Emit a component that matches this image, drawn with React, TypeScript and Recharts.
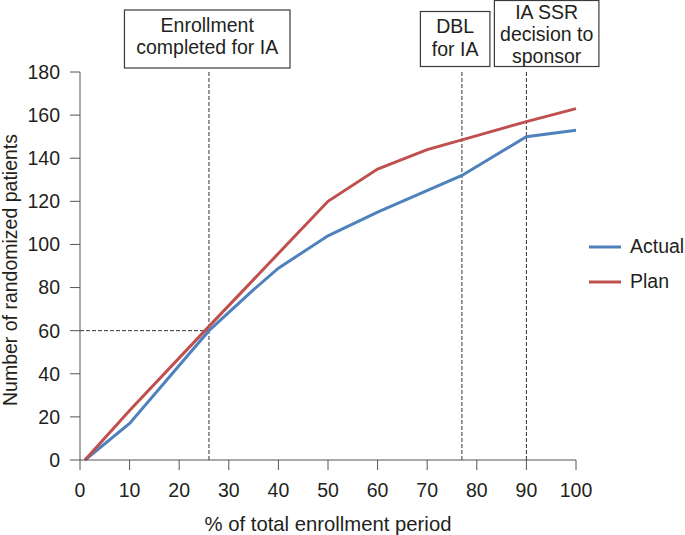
import React from "react";
import { LineChart, Line, XAxis, YAxis, ReferenceLine, Label } from "recharts";

// % of total enrollment period
const actualPct = [1, 10, 26, 35, 40, 50, 60, 77, 90, 100];
const actualPatients = [0, 17, 60, 79, 89, 104, 115, 132, 150, 153];
const planPct = [1, 10, 26, 50, 60, 70, 77, 90, 100];
const planPatients = [0, 23, 62, 120, 135, 144, 148.5, 157, 163];

const xTicks = [0, 10, 20, 30, 40, 50, 60, 70, 80, 90, 100];
const yTicks = [0, 20, 40, 60, 80, 100, 120, 140, 160, 180];

const milestonePct = [26, 77, 90];
const milestoneText = [
  ["Enrollment", "completed for IA"],
  ["DBL", "for IA"],
  ["IA SSR", "decision to", "sponsor"],
];
const enrollmentTarget = 60;

// box layout for each milestone (relative to its dashed line)
const boxStyle = [
  { dx: -84.5, top: 10, w: 165.5, h: 58, first: 21.8, step: 22.6 },
  { dx: -41.5, top: 11.5, w: 69.5, h: 55, first: 21.8, step: 22.6 },
  { dx: -32, top: 0.5, w: 104.5, h: 66, first: 18.8, step: 21.8 },
];

const FONT = "Liberation Sans";
const TEXT = "#231f20";
const AXIS = "#555";
const BLUE = "#4f81bd";
const RED = "#c0504d";

const actualData = actualPct.map((x, i) => ({ x, y: actualPatients[i] }));
const planData = planPct.map((x, i) => ({ x, y: planPatients[i] }));

const series = [
  { name: "Actual", color: BLUE },
  { name: "Plan", color: RED },
];

const MilestoneBox = (idx: number) => (props: any) => {
  const vx = props.viewBox?.x ?? 0;
  const s = boxStyle[idx];
  const left = vx + s.dx;
  return (
    <g>
      <rect
        x={left}
        y={s.top}
        width={s.w}
        height={s.h}
        fill="#fff"
        stroke="#3a3a3a"
        strokeWidth={1.2}
      />
      {milestoneText[idx].map((t, j) => (
        <text
          key={j}
          x={left + s.w / 2}
          y={s.top + s.first + j * s.step}
          textAnchor="middle"
          fontSize={19.5}
          fontFamily={FONT}
          fill={TEXT}
        >
          {t}
        </text>
      ))}
    </g>
  );
};

const YTitle = (props: any) => {
  const vb = props.viewBox || { x: 0, y: 0 };
  const x = vb.x + 17;
  const y = vb.y + 198;
  return (
    <text
      x={x}
      y={y}
      transform={`rotate(-90, ${x}, ${y})`}
      textAnchor="middle"
      fontSize={19.5}
      fontFamily={FONT}
      fill={TEXT}
    >
      Number of randomized patients
    </text>
  );
};

export default function App() {
  return (
    <div
      style={{
        position: "absolute",
        left: 0,
        top: 0,
        width: 685,
        height: 535,
        background: "#fff",
        fontFamily: FONT,
      }}
    >
      <LineChart
        width={685}
        height={535}
        margin={{ top: 72, right: 109, bottom: 0, left: 0 }}
        style={{ fontFamily: FONT }}
      >
        <XAxis
          type="number"
          dataKey="x"
          domain={[0, 100]}
          ticks={xTicks}
          interval={0}
          height={75}
          tickSize={10}
          tickMargin={13}
          stroke={AXIS}
          tick={{ fontSize: 19.5, fill: TEXT }}
          allowDuplicatedCategory={false}
        >
          <Label
            value="% of total enrollment period"
            position="insideBottom"
            offset={4}
            style={{ fontSize: 20.3, fill: TEXT }}
          />
        </XAxis>
        <YAxis
          type="number"
          domain={[0, 180]}
          ticks={yTicks}
          interval={0}
          width={80}
          tickSize={10}
          tickMargin={10}
          stroke={AXIS}
          tick={{ fontSize: 19.5, fill: TEXT }}
        >
          <Label content={<YTitle />} />
        </YAxis>
        {milestonePct.map((m, i) => (
          <ReferenceLine
            key={m}
            x={m}
            stroke="#333"
            strokeDasharray="4 2"
            strokeWidth={1}
            label={MilestoneBox(i)}
          />
        ))}
        <ReferenceLine
          segment={[
            { x: 0, y: enrollmentTarget },
            { x: milestonePct[0], y: enrollmentTarget },
          ]}
          stroke="#333"
          strokeDasharray="4 2"
          strokeWidth={1}
        />
        <Line
          data={actualData}
          dataKey="y"
          name="Actual"
          type="linear"
          stroke={BLUE}
          strokeWidth={3}
          dot={false}
          isAnimationActive={false}
        />
        <Line
          data={planData}
          dataKey="y"
          name="Plan"
          type="linear"
          stroke={RED}
          strokeWidth={3}
          dot={false}
          isAnimationActive={false}
        />
      </LineChart>
      <div style={{ position: "absolute", left: 589, top: 229 }}>
        {series.map((s) => (
          <div
            key={s.name}
            style={{ display: "flex", alignItems: "center", height: 35 }}
          >
            <svg width={32} height={4} style={{ marginRight: 9 }}>
              <line x1={0} y1={2} x2={32} y2={2} stroke={s.color} strokeWidth={3} />
            </svg>
            <span style={{ fontSize: 19.5, color: TEXT }}>{s.name}</span>
          </div>
        ))}
      </div>
    </div>
  );
}
